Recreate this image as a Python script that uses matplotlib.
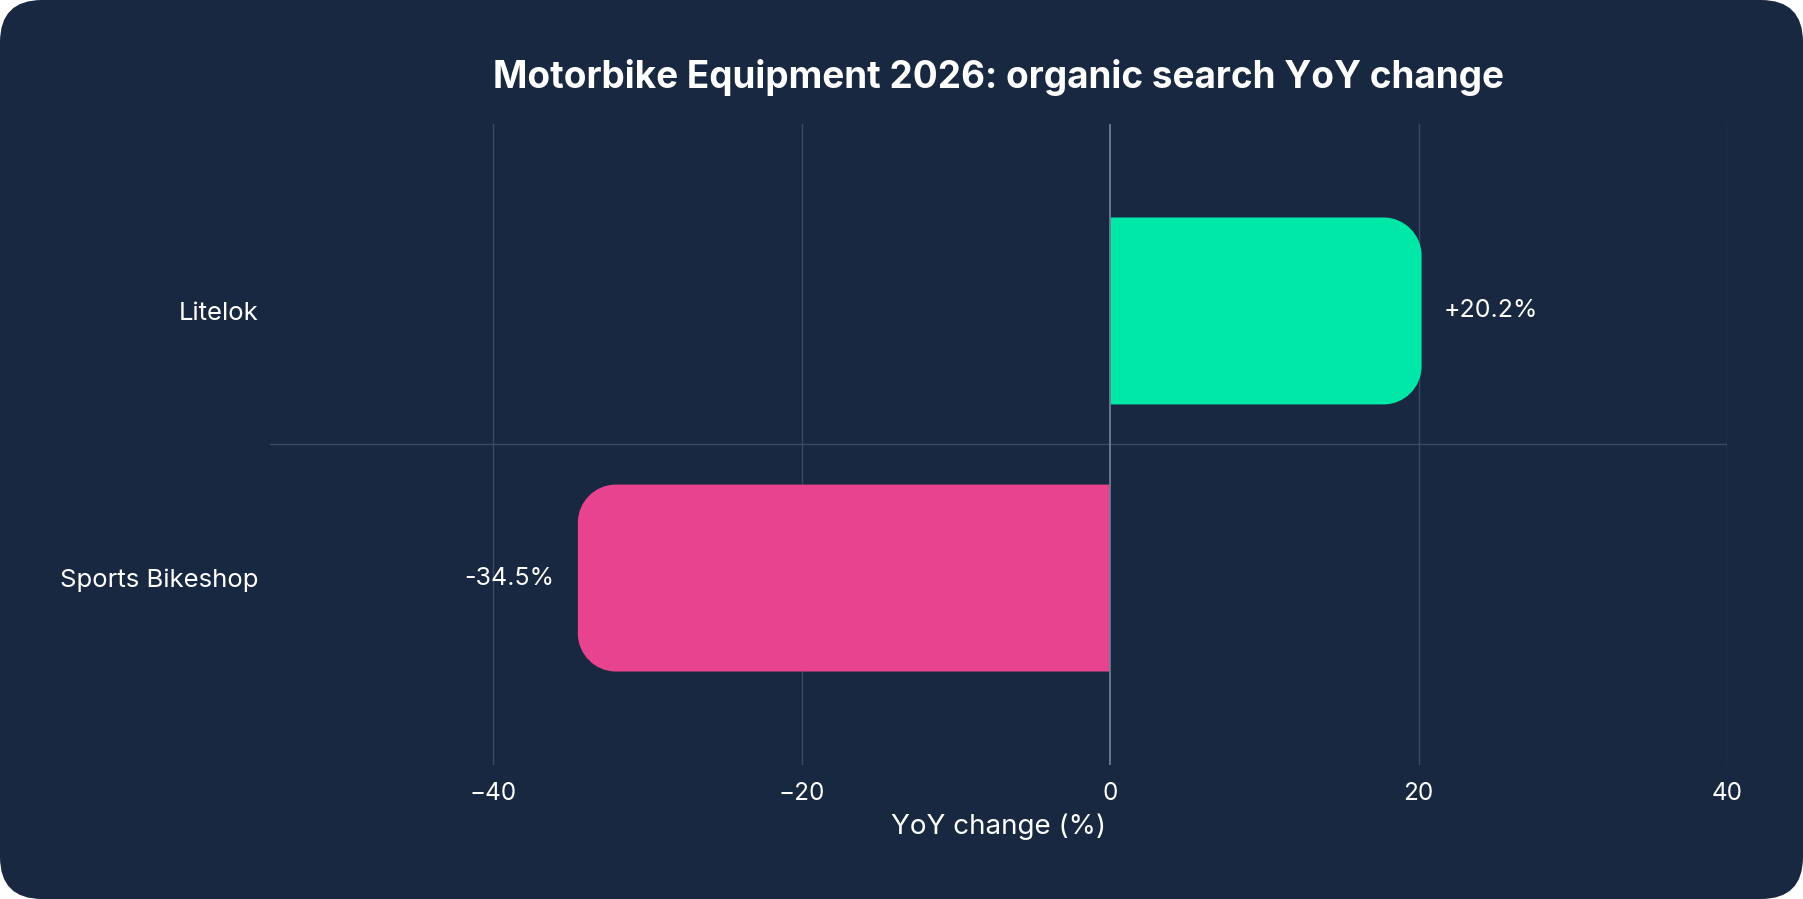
import matplotlib
matplotlib.use("Agg")
import matplotlib.pyplot as plt
from matplotlib.patches import FancyBboxPatch, PathPatch
from matplotlib.path import Path

brands = ["Litelok", "Sports Bikeshop"]
yoy = [20.2, -34.5]
labels = ["+20.2%", "-34.5%"]
colors = ["#00E8A8", "#E8438F"]
xticks = [-40, -20, 0, 20, 40]

bg = "#172840"
plt.rcParams["font.family"] = ["Inter", "DejaVu Sans"]

fig = plt.figure(figsize=(18.03, 8.99), dpi=100)
fig.patch.set_facecolor("white")
W, H = fig.get_size_inches() * fig.dpi

# rounded card behind everything
card = FancyBboxPatch((0, 0), W, H, boxstyle="round,pad=0,rounding_size=42",
                      transform=None, facecolor=bg, edgecolor="none", zorder=-10)
fig.patches.append(card)

ax = fig.add_axes([270 / W, 1 - 765 / H, (1727 - 270) / W, (765 - 124) / H])
ax.set_facecolor(bg)
ax.set_xlim(-54.46, 40)
ax.set_ylim(1.7, -0.7)

bars = ax.barh(range(len(brands)), yoy, height=0.7, color=colors, zorder=3)

# replace the plain rectangles with ones rounded at the outer end
px_x = ax.get_position().width * W / (ax.get_xlim()[1] - ax.get_xlim()[0])
px_y = ax.get_position().height * H / abs(ax.get_ylim()[1] - ax.get_ylim()[0])
r = 38
for b, v in zip(bars, yoy):
    x0, y0 = b.get_x(), b.get_y()
    h = b.get_height()
    x1 = x0 + b.get_width()
    rx = r / px_x * (1 if v > 0 else -1)
    ry = r / px_y
    k = 0.45
    ya, yb = y0, y0 + h
    verts = [(0, ya), (x1 - rx, ya),
             (x1 - rx * k, ya), (x1, ya + ry * k), (x1, ya + ry),
             (x1, yb - ry),
             (x1, yb - ry * k), (x1 - rx * k, yb), (x1 - rx, yb),
             (0, yb), (0, ya)]
    codes = [Path.MOVETO, Path.LINETO,
             Path.CURVE4, Path.CURVE4, Path.CURVE4,
             Path.LINETO,
             Path.CURVE4, Path.CURVE4, Path.CURVE4,
             Path.LINETO, Path.CLOSEPOLY]
    ax.add_patch(PathPatch(Path(verts, codes), facecolor=b.get_facecolor(),
                           edgecolor="none", zorder=3))
    b.set_visible(False)

for i, (v, t) in enumerate(zip(yoy, labels)):
    ax.annotate(t, (v, i), xytext=(16 if v > 0 else -17, 0), textcoords="offset points",
                ha="left" if v > 0 else "right", va="center",
                color="white", fontsize=18, zorder=4)

ax.set_xticks(xticks)
ax.set_xticklabels(["\u221240", "\u221220", "0", "20", "40"])
ax.set_yticks(range(len(brands)))
ax.set_yticklabels(brands, fontsize=18.5)
ax.tick_params(axis="both", length=0, colors="white")
ax.tick_params(axis="x", pad=12, labelsize=17.5)
ax.tick_params(axis="y", pad=8)
for s in ax.spines.values():
    s.set_visible(False)

for x in xticks:
    if x != 0:
        ax.axvline(x, color="#3A4A62", lw=1, zorder=1)
ax.axvline(0, color="#6E7C92", lw=1.3, zorder=4)
ax.axhline(0.5, color="#3A4A62", lw=1, zorder=1)

ax.set_xlabel("YoY change (%)", color="white", fontsize=20, labelpad=6)
fig.text(0.554, 1 - 77 / H, "Motorbike Equipment 2026: organic search YoY change",
         ha="center", va="center", color="white", fontsize=26.6, fontweight="bold")

fig.savefig("out.png", dpi=100, facecolor=fig.get_facecolor())
